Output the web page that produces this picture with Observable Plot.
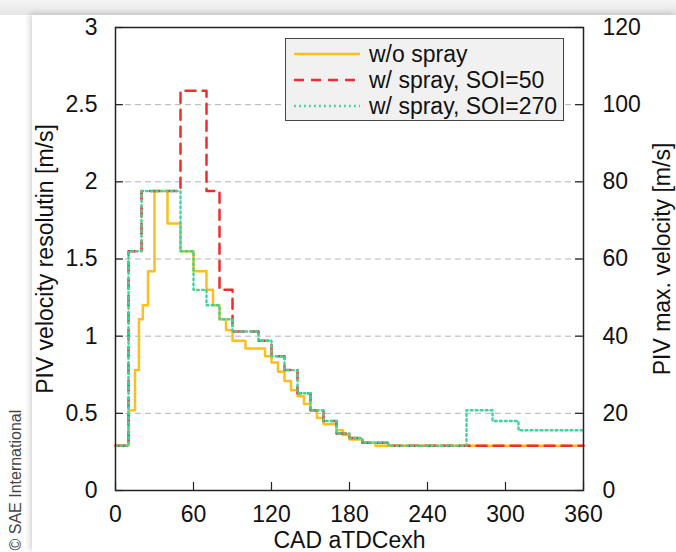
<!DOCTYPE html>
<html>
<head>
<meta charset="utf-8">
<script src="https://cdn.jsdelivr.net/npm/d3@7"></script>
<script src="https://cdn.jsdelivr.net/npm/@observablehq/plot@0.6"></script>
<style>
  html, body { margin: 0; padding: 0; width: 676px; height: 552px; overflow: hidden; background: #ffffff; }
  #topband { position: absolute; left: 0; top: 0; width: 676px; height: 15px; background: linear-gradient(to bottom, #f5f5f5, #e4e4e4); }
  #card { position: absolute; left: 32px; top: 15px; right: 0; bottom: 0; background: #fff; box-shadow: -2px -1px 6px rgba(0,0,0,0.18); }
  #chart { position: absolute; left: 0; top: 0; }
  #legend { position: absolute; left: 285px; top: 38px; width: 277px; height: 81px; background: #f1f1f1; border: 1.5px solid #444;
            font-family: "Liberation Sans", Arial, sans-serif; font-size: 23px; color: #111; }
  .row { position: absolute; left: 0; height: 26px; width: 100%; }
  .row svg { position: absolute; left: 8px; top: 0; }
  .row span { position: absolute; left: 83px; top: 50%; transform: translateY(-50%); line-height: 1; white-space: nowrap; }
</style>
</head>
<body>
<div id="topband"></div>
<div id="card"></div>
<div id="chart"></div>
<div id="legend"></div>
<script>
// ---- data (crank angle breakpoints, step values in m/s) ----
const seriesNames = ["w/o spray", "w/ spray, SOI=50", "w/ spray, SOI=270"];
const seriesColors = ["#fcbf1e", "#f02c2c", "#3fd39a"];

const xNoSpray = [0, 10, 15, 18, 21, 25, 30, 40, 50, 60, 70, 75, 80, 85, 90, 100, 115, 120, 125, 130, 135, 140, 145, 150, 155, 160, 170, 175, 180, 190, 200, 360];
const yNoSpray = [0.29, 0.52, 0.78, 1.11, 1.2, 1.42, 1.94, 1.73, 1.55, 1.42, 1.30, 1.20, 1.11, 1.04, 0.97, 0.92, 0.87, 0.83, 0.77, 0.71, 0.65, 0.61, 0.56, 0.52, 0.47, 0.43, 0.39, 0.36, 0.33, 0.31, 0.29, 0.29];

const xSoi50 = [0, 10, 20, 50, 70, 80, 90, 110, 120, 130, 140, 150, 160, 170, 180, 190, 210, 360];
const ySoi50 = [0.29, 1.55, 1.94, 2.59, 1.94, 1.30, 1.03, 0.97, 0.87, 0.78, 0.63, 0.52, 0.45, 0.37, 0.34, 0.31, 0.29, 0.29];

const xSoi270 = [0, 10, 20, 50, 60, 70, 80, 90, 110, 120, 130, 140, 150, 160, 170, 180, 190, 210, 270, 290, 310, 360];
const ySoi270 = [0.29, 1.55, 1.94, 1.55, 1.30, 1.20, 1.11, 1.03, 0.97, 0.87, 0.78, 0.63, 0.52, 0.45, 0.37, 0.34, 0.31, 0.29, 0.52, 0.45, 0.39, 0.39];

const xTicks = [0, 60, 120, 180, 240, 300, 360];
const yTicks = [0, 0.5, 1, 1.5, 2, 2.5, 3];
const gridTicks = [0.5, 1, 1.5, 2, 2.5];
const rightFactor = 40; // right axis = max. velocity = 40 x resolution

const xTitle = "CAD aTDCexh";
const yTitleLeft = "PIV velocity resolutin [m/s]";
const yTitleRight = "PIV max. velocity [m/s]";
const caption = "© SAE International";

// ---- build ----
const rows = (xs, ys) => xs.map((x, i) => ({x, y: ys[i]}));
const dashes = [null, "10,7", "1.8,3.2"];
const FONT = "'Liberation Sans', Arial, sans-serif";
const TICK = 8;

const plot = Plot.plot({
  width: 676,
  height: 552,
  marginLeft: 115,
  marginRight: 93,
  marginTop: 27,
  marginBottom: 62,
  style: {fontFamily: FONT, fontSize: "23px", color: "#111", background: "transparent", overflow: "visible"},
  x: {domain: [0, 360]},
  y: {domain: [0, 3]},
  marks: [
    Plot.gridY(gridTicks, {stroke: "#b4b4b4", strokeOpacity: 1, strokeDasharray: "6,4", strokeWidth: 1}),
    Plot.line(rows(xNoSpray, yNoSpray), {x: "x", y: "y", curve: "step-after", stroke: seriesColors[0], strokeWidth: 2.5}),
    Plot.line(rows(xSoi50, ySoi50), {x: "x", y: "y", curve: "step-after", stroke: seriesColors[1], strokeWidth: 2.5, strokeDasharray: dashes[1]}),
    Plot.line(rows(xSoi270, ySoi270), {x: "x", y: "y", curve: "step-after", stroke: seriesColors[2], strokeWidth: 2.4, strokeDasharray: dashes[2]}),
    Plot.frame({stroke: "#222", strokeWidth: 1.5}),
    // inward tick marks
    Plot.ruleX(xTicks, {x: d => d, y1: 0, y2: 0, insetTop: -TICK, stroke: "#222", strokeWidth: 1.2}),
    Plot.ruleY(yTicks, {y: d => d, x1: 0, x2: 0, insetRight: -TICK, stroke: "#222", strokeWidth: 1.2}),
    Plot.ruleY(yTicks, {y: d => d, x1: 360, x2: 360, insetLeft: -TICK, stroke: "#222", strokeWidth: 1.2}),
    // tick labels
    Plot.axisX(xTicks, {anchor: "bottom", tickSize: 0, tickPadding: 15, label: null, tickFormat: d => String(d)}),
    Plot.axisY(yTicks, {anchor: "left", tickSize: 0, tickPadding: 18, label: null, tickFormat: d => String(d)}),
    Plot.axisY(yTicks, {anchor: "right", tickSize: 0, tickPadding: 19, label: null, tickFormat: d => String(d * rightFactor)}),
    // titles
    Plot.text([yTitleLeft], {frameAnchor: "left", dx: -70, rotate: -90, textAnchor: "middle", lineAnchor: "middle", fontSize: 23, fill: "#111"}),
    Plot.text([yTitleRight], {frameAnchor: "right", dx: 79, rotate: -90, textAnchor: "middle", lineAnchor: "middle", fontSize: 23, fill: "#111"}),
    Plot.text([xTitle], {frameAnchor: "bottom", dy: 50, textAnchor: "middle", lineAnchor: "middle", fontSize: 23, fill: "#111"}),
    Plot.text([caption], {frameAnchor: "bottom-left", dx: -100, dy: 60, rotate: -90, textAnchor: "start", lineAnchor: "middle", fontSize: 16, fill: "#444"})
  ]
});
document.getElementById("chart").appendChild(plot);

// ---- legend ----
const legend = document.getElementById("legend");
const rowTops = [2, 28, 54];
seriesNames.forEach((name, i) => {
  const row = document.createElement("div");
  row.className = "row";
  row.style.top = rowTops[i] + "px";
  const svg = d3.create("svg").attr("width", 68).attr("height", 26);
  svg.append("line").attr("x1", 0).attr("x2", 66).attr("y1", 13).attr("y2", 13)
    .attr("stroke", seriesColors[i]).attr("stroke-width", 2.5)
    .attr("stroke-dasharray", dashes[i]);
  row.appendChild(svg.node());
  const span = document.createElement("span");
  span.textContent = name;
  row.appendChild(span);
  legend.appendChild(row);
});
</script>
</body>
</html>
